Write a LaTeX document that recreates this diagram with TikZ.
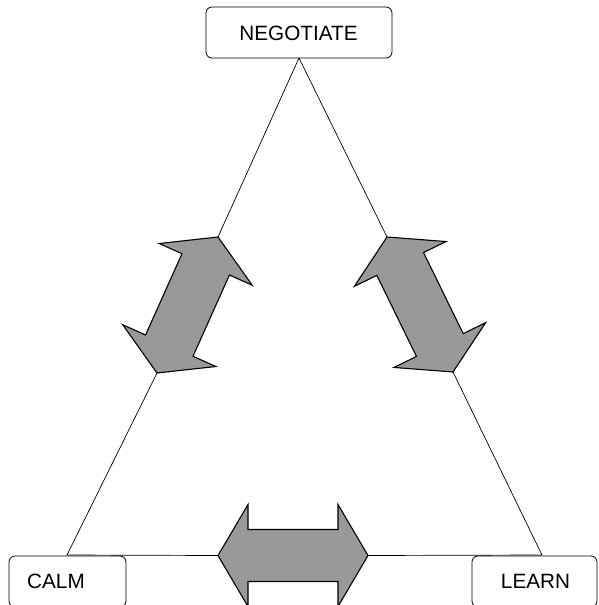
\documentclass[tikz,border=0pt]{standalone}
\usepackage{fontspec}
\setmainfont{Liberation Sans}
\usetikzlibrary{calc}
\definecolor{arrowgray}{RGB}{153,153,153}
\tikzset{
  box/.style={draw, rounded corners=6pt, line width=0.8pt, inner sep=0pt},
  lbl/.style={inner sep=0pt, anchor=base, font=\fontsize{20.7}{24}\selectfont},
  edge/.style={line width=0.7pt},
  arrowshape/.style={fill=arrowgray, draw=black, line width=1.1pt, line join=miter},
}
\newcommand{\dblarr}[2]{%
  \filldraw[arrowshape] (#1)
    -- ($(#1)!30pt!(#2)!51pt!90:(#2)$)
    -- ($(#1)!30pt!(#2)!26pt!90:(#2)$)
    -- ($(#2)!30pt!(#1)!26pt!-90:(#1)$)
    -- ($(#2)!30pt!(#1)!51pt!-90:(#1)$)
    -- (#2)
    -- ($(#2)!30pt!(#1)!51pt!90:(#1)$)
    -- ($(#2)!30pt!(#1)!26pt!90:(#1)$)
    -- ($(#1)!30pt!(#2)!26pt!-90:(#2)$)
    -- ($(#1)!30pt!(#2)!51pt!-90:(#2)$)
    -- cycle;}
\begin{document}
\begin{tikzpicture}[x=1pt,y=-1pt]
\clip (0,0) rectangle (598,605);
% boxes
\node[box, minimum width=186pt, minimum height=51pt] (neg) at (299,32.5) {};
\node[lbl] (negt) at (298.5,40) {NEGOTIATE};
\node[box, minimum width=117pt, minimum height=51pt] (calm) at (67.5,581.5) {};
\node[lbl] (calmt) at (56,588) {CALM};
\node[box, minimum width=125pt, minimum height=51pt] (learn) at (534.5,581.5) {};
\node[lbl] (learnt) at (535.5,588) {LEARN};
% triangle corners
\coordinate (apex) at (299,58);
\coordinate (bl) at (67,555);
\coordinate (br) at (542,555);
% arrow tips
\coordinate (la1) at (218,237);
\coordinate (la2) at (157,373);
\coordinate (ra1) at (387,237);
\coordinate (ra2) at (453,372);
\coordinate (ba1) at (218,555.5);
\coordinate (ba2) at (368,555.5);
% triangle edges
\draw[edge] (apex) -- (la1);
\draw[edge] (la2) -- (bl);
\draw[edge] (apex) -- (ra1);
\draw[edge] (ra2) -- (br);
\draw[edge] (bl) -- (ba1);
\draw[edge] (ba2) -- (br);
% double arrows
\dblarr{la1}{la2}
\dblarr{ra1}{ra2}
\dblarr{ba1}{ba2}
\end{tikzpicture}
\end{document}
